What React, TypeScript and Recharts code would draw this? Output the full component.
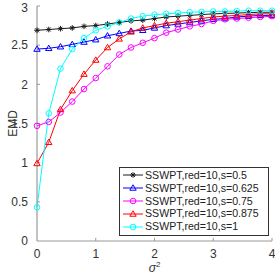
import React from "react";
import { LineChart, Line, XAxis, YAxis, ReferenceLine } from "recharts";

const sigma2 = [0, 0.2, 0.4, 0.6, 0.8, 1, 1.2, 1.4, 1.6, 1.8, 2, 2.2, 2.4, 2.6, 2.8, 3, 3.2, 3.4, 3.6, 3.8, 4];

const s050 = [2.69, 2.7, 2.71, 2.72, 2.74, 2.75, 2.77, 2.79, 2.81, 2.82, 2.84, 2.86, 2.87, 2.88, 2.89, 2.9, 2.905, 2.91, 2.915, 2.92, 2.92];
const s0625 = [2.45, 2.46, 2.48, 2.51, 2.54, 2.57, 2.62, 2.65, 2.68, 2.69, 2.72, 2.75, 2.77, 2.79, 2.81, 2.83, 2.84, 2.86, 2.87, 2.88, 2.88];
const s075 = [1.47, 1.52, 1.64, 1.78, 1.94, 2.08, 2.23, 2.38, 2.47, 2.53, 2.59, 2.66, 2.7, 2.74, 2.77, 2.81, 2.83, 2.84, 2.85, 2.86, 2.87];
const s0875 = [0.99, 1.26, 1.68, 1.92, 2.13, 2.31, 2.47, 2.58, 2.67, 2.72, 2.75, 2.78, 2.8, 2.82, 2.84, 2.86, 2.87, 2.88, 2.89, 2.9, 2.9];
const s1 = [0.43, 1.63, 2.2, 2.45, 2.59, 2.69, 2.74, 2.79, 2.84, 2.87, 2.89, 2.9, 2.91, 2.92, 2.925, 2.93, 2.93, 2.935, 2.94, 2.94, 2.94];

const xTicks = [0, 1, 2, 3, 4];
const yTicks = [0, 0.5, 1, 1.5, 2, 2.5, 3];

const series = [
  { key: "a", name: "SSWPT,red=10,s=0.5", values: s050, color: "#1a1a1a", marker: "star" },
  { key: "b", name: "SSWPT,red=10,s=0.625", values: s0625, color: "#0000ff", marker: "triangle" },
  { key: "c", name: "SSWPT,red=10,s=0.75", values: s075, color: "#ff00ff", marker: "circle" },
  { key: "d", name: "SSWPT,red=10,s=0.875", values: s0875, color: "#ff0000", marker: "triangle" },
  { key: "e", name: "SSWPT,red=10,s=1", values: s1, color: "#00ffff", marker: "circle" },
];

const data = sigma2.map((x, i) => {
  const row: Record<string, number> = { x };
  series.forEach((s) => (row[s.key] = s.values[i]));
  return row;
});

const FONT = "'Liberation Sans', Arial, Helvetica, sans-serif";

function Marker({ cx, cy, type, color }: { cx: number; cy: number; type: string; color: string }) {
  if (type === "star") {
    const r = 2.8;
    const d = r * 0.707;
    return (
      <g stroke={color} strokeWidth={1}>
        <line x1={cx - r} y1={cy} x2={cx + r} y2={cy} />
        <line x1={cx} y1={cy - r} x2={cx} y2={cy + r} />
        <line x1={cx - d} y1={cy - d} x2={cx + d} y2={cy + d} />
        <line x1={cx - d} y1={cy + d} x2={cx + d} y2={cy - d} />
      </g>
    );
  }
  if (type === "triangle") {
    const r = 3.2;
    return (
      <polygon
        points={`${cx},${cy - r} ${cx - r},${cy + r * 0.7} ${cx + r},${cy + r * 0.7}`}
        fill="none"
        stroke={color}
        strokeWidth={1}
      />
    );
  }
  return <circle cx={cx} cy={cy} r={2.8} fill="none" stroke={color} strokeWidth={1} />;
}

function SigmaLabel(props: any) {
  const vb = props.viewBox || {};
  const cx = vb.x + vb.width / 2;
  return (
    <text x={cx} y={vb.y + 31} textAnchor="middle" fontFamily={FONT} fontSize={12} fill="#333">
      <tspan fontStyle="italic">σ</tspan>
      <tspan dy={-5} fontSize={8}>2</tspan>
    </text>
  );
}

function LegendBox() {
  return (
    <div
      style={{
        position: "absolute",
        left: 119,
        top: 167,
        width: 146,
        border: "1px solid #333",
        background: "#fff",
        padding: "1px 0 2px 2px",
        fontFamily: FONT,
        fontSize: 10.6,
        color: "#222",
        lineHeight: "12.8px",
      }}
    >
      {series.map((s) => (
        <div key={s.key} style={{ display: "flex", alignItems: "center", whiteSpace: "nowrap" }}>
          <svg width={22} height={12} style={{ marginRight: 1 }}>
            <line x1={1} y1={6} x2={21} y2={6} stroke={s.color} strokeWidth={1} />
            <Marker cx={11} cy={6} type={s.marker} color={s.color} />
          </svg>
          <span>{s.name}</span>
        </div>
      ))}
    </div>
  );
}

export default function App() {
  return (
    <div style={{ position: "absolute", left: 0, top: 0, width: 275, height: 277, background: "#fff" }}>
      <LineChart width={275} height={277} data={data} margin={{ top: 6, right: 3, bottom: 0, left: 0 }}>
        <XAxis
          dataKey="x"
          type="number"
          domain={[0, 4]}
          ticks={xTicks}
          height={36}
          tickLine={false}
          axisLine={{ stroke: "#999", strokeWidth: 1.2 }}
          tick={{ fill: "#333", fontSize: 12, fontFamily: FONT }}
          tickMargin={2}
          label={<SigmaLabel />}
        />
        <YAxis
          type="number"
          domain={[0, 3]}
          ticks={yTicks}
          width={37}
          tickLine={false}
          axisLine={{ stroke: "#999", strokeWidth: 1.2 }}
          tick={{ fill: "#333", fontSize: 12, fontFamily: FONT }}
          tickMargin={3}
          label={{ value: "EMD", angle: -90, position: "insideLeft", offset: 13, fill: "#333", fontSize: 12, fontFamily: FONT, style: { textAnchor: "middle" } }}
        />
        {xTicks.slice(1).map((t) => (
          <ReferenceLine key={"xt" + t} segment={[{ x: t, y: 0 }, { x: t, y: 0.04 }]} stroke="#999" />
        ))}
        {yTicks.slice(1).map((t) => (
          <ReferenceLine key={"yt" + t} segment={[{ x: 0, y: t }, { x: 0.05, y: t }]} stroke="#999" />
        ))}
        {series.map((s) => (
          <Line
            key={s.key}
            dataKey={s.key}
            name={s.name}
            stroke={s.color}
            strokeWidth={1}
            isAnimationActive={false}
            dot={(p: any) => <Marker key={s.key + p.index} cx={p.cx} cy={p.cy} type={s.marker} color={s.color} />}
          />
        ))}
      </LineChart>
      <LegendBox />
    </div>
  );
}
